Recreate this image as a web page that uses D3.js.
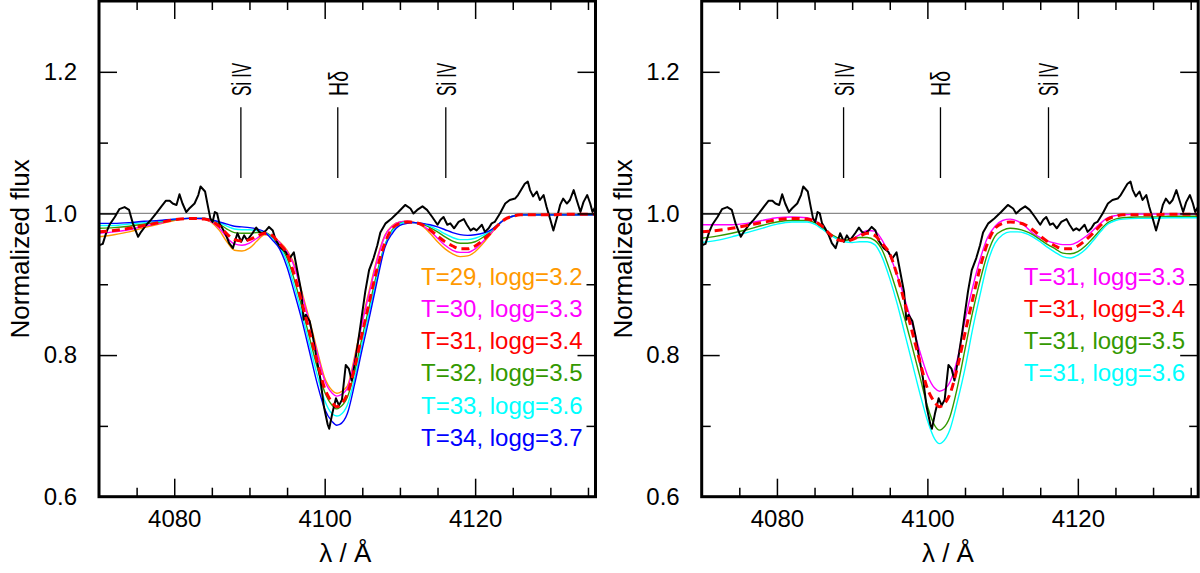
<!DOCTYPE html>
<html>
<head>
<meta charset="utf-8">
<script src="https://cdn.jsdelivr.net/npm/d3@7"></script>
<style>
  body { margin: 0; background: #fff; }
  svg { display: block; font-family: "Liberation Sans", Arial, sans-serif; }
</style>
</head>
<body>
<svg width="1200" height="573"></svg>
<script>
// model wavelength grid (Å)
const modelWave = [4070, 4072, 4074, 4076, 4078, 4080, 4082, 4084,
  4085, 4086, 4087, 4088, 4089, 4090, 4091, 4092,
  4093, 4094, 4095, 4096, 4097, 4098, 4099, 4100, 4101, 4101.6,
  4102, 4103, 4104, 4105, 4106, 4107, 4108, 4109, 4110, 4111,
  4112, 4113, 4114, 4115, 4116, 4117, 4118, 4119, 4120, 4121, 4122, 4123, 4124, 4125, 4126,
  4128, 4130, 4132, 4134, 4136]

// left panel models
const t29g32 = [.967,.970,.974,.980,.985,.990,.993,.992, .987,.976,.960,.948,.947,.951,.961,.970,
  .968,.960,.948,.927,.888,.849,.807,.768,.750,.746, .747,.756,.799,.850,.895,.938,.969,.983,.988,.989,
  .987,.982,.972,.960,.950,.943,.939,.940,.946,.957,.970,.983,.992,.996,.998, .998,.998,.998,.998,.998]
const t30g33 = [.972,.974,.977,.982,.986,.991,.993,.992, .988,.979,.966,.957,.955,.958,.965,.971,
  .968,.959,.946,.924,.885,.845,.803,.764,.746,.742, .743,.753,.795,.846,.891,.935,.968,.982,.988,.989,
  .987,.983,.975,.965,.955,.948,.945,.945,.950,.960,.971,.983,.992,.996,.998, .998,.998,.998,.998,.998]
const t31g34 = [.974,.976,.979,.983,.987,.991,.993,.992, .989,.982,.971,.963,.961,.963,.968,.972,
  .969,.957,.943,.912,.873,.832,.791,.753,.733,.727, .729,.745,.783,.831,.878,.923,.958,.979,.986,.988,
  .987,.984,.977,.968,.960,.954,.950,.950,.954,.962,.972,.983,.992,.996,.998, .998,.998,.999,.999,.999]
const t32g35 = [.979,.980,.982,.985,.988,.991,.993,.993, .990,.985,.978,.973,.972,.972,.973,.973,
  .967,.955,.937,.905,.866,.824,.783,.748,.729,.724, .726,.740,.777,.826,.872,.918,.955,.977,.986,.988,
  .987,.985,.980,.974,.967,.961,.958,.958,.960,.966,.974,.984,.992,.996,.998, .998,.998,.998,.998,.998]
const t33g36 = [.983,.983,.985,.987,.989,.992,.993,.993, .991,.987,.982,.978,.977,.977,.976,.974,
  .965,.953,.931,.896,.857,.814,.772,.736,.717,.714, .715,.729,.768,.817,.864,.912,.954,.975,.985,.988,
  .987,.986,.982,.977,.971,.966,.963,.963,.965,.969,.975,.984,.992,.996,.998, .998,.998,.998,.998,.998]
const t34g37 = [.986,.986,.987,.989,.990,.992,.993,.993, .991,.988,.985,.982,.981,.980,.978,.974,
  .963,.950,.924,.887,.848,.804,.760,.724,.706,.701, .702,.717,.760,.809,.856,.906,.952,.972,.983,.986,
  .987,.986,.984,.981,.977,.973,.970,.969,.970,.972,.976,.984,.992,.996,.998, .998,.998,.998,.998,.998]

// right panel models (T=31)
const t31g33 = [.984,.984,.984,.986,.990,.994,.995,.994, .990,.981,.972,.965,.962,.964,.970,.976,
  .975,.962,.941,.912,.879,.843,.805,.772,.753,.749, .750,.762,.795,.849,.895,.935,.966,.982,.990,.992,
  .989,.982,.972,.966,.961,.958,.956,.956,.960,.967,.976,.986,.994,.997,.998, .999,.999,.999,.999,.999]
const t31g35 = [.965,.968,.972,.977,.983,.988,.990,.990, .987,.980,.972,.966,.962,.964,.966,.966,
  .962,.948,.920,.887,.851,.811,.770,.728,.700,.694, .696,.713,.755,.808,.860,.905,.943,.968,.976,.979,
  .978,.975,.970,.963,.956,.950,.944,.943,.946,.954,.965,.977,.987,.992,.994, .995,.995,.996,.996,.996]
const t31g36 = [.959,.962,.967,.973,.979,.985,.988,.988, .985,.978,.970,.964,.960,.959,.960,.960,
  .956,.938,.908,.872,.830,.788,.746,.708,.681,.675, .677,.695,.735,.781,.836,.885,.930,.958,.970,.974,
  .974,.972,.967,.960,.952,.945,.939,.937,.941,.949,.961,.974,.985,.990,.992, .993,.993,.994,.994,.994]

// observed spectrum
const obsWave = [4070.0,4070.5,4071.0,4071.4,4072.1,4072.7,4073.4,4074.0,4074.5,4075.2,4075.6,4076.3,4076.9,4077.6,
  4078.3,4078.9,4079.4,4079.8,4080.3,4080.7,4081.1,4081.6,4082.0,4082.7,4083.2,4083.5,4084.1,4084.5,4084.8,
  4085.1,4085.4,4085.7,4086.0,4086.4,4086.9,4087.3,4087.8,4088.2,4088.4,4088.9,4089.3,4089.7,4090.4,4090.9,
  4091.3,4091.7,4092.2,4092.6,4093.1,4093.5,4094.2,4094.8,4095.3,4095.9,4096.4,4096.9,4097.2,4097.5,4098.0,
  4098.4,4098.9,4099.4,4099.9,4100.4,4100.6,4101.0,4101.5,4101.9,4102.3,4102.8,4103.2,4103.6,4104.1,4104.6,
  4105.0,4105.4,4105.9,4106.5,4107.0,4107.4,4108.1,4108.9,4109.8,4110.7,4111.4,4111.8,4112.3,4113.0,4113.6,
  4114.3,4115.0,4115.4,4115.8,4116.3,4116.7,4117.2,4117.8,4118.5,4118.9,4119.4,4119.8,4120.2,4120.9,4121.3,
  4121.8,4122.2,4122.6,4123.3,4124.0,4124.6,4125.3,4125.7,4126.2,4126.6,4127.0,4127.3,4127.7,4128.2,4128.6,
  4129.1,4129.5,4130.0,4130.4,4130.9,4131.3,4131.7,4132.2,4132.6,4133.1,4133.5,4134.0,4134.4,4134.9,4135.3,
  4135.6,4136.0]
const obsFlux = [.955,.957,.974,.984,.995,1.006,1.009,1.005,.986,.967,.974,.984,.991,1.000,
  1.010,1.018,1.018,1.014,1.012,1.027,1.014,1.002,1.007,1.014,1.026,1.038,1.031,1.009,.993,
  .988,1.002,1.000,.986,.979,.969,.958,.951,.965,.972,.960,.969,.962,.972,.980,
  .974,.972,.976,.981,.976,.962,.951,.946,.936,.945,.917,.889,.850,.857,.848,
  .828,.797,.768,.727,.702,.696,.717,.739,.729,.737,.786,.781,.764,.795,.830,
  .860,.890,.920,.937,.955,.973,.986,.993,1.002,1.012,1.007,1.000,1.005,1.010,1.005,
  .995,.984,.991,.995,.984,.986,.979,.988,.992,.984,.976,.979,.976,.984,.974,
  .979,.986,.988,1.000,1.014,1.019,1.021,1.026,1.035,1.042,1.045,1.033,1.024,1.031,1.019,
  1.026,1.009,.991,.976,.995,1.012,1.021,1.014,1.019,1.033,1.019,1.002,1.016,1.026,1.014,
  1.002,1.010]

// line identifications
const idWave = [4088.86, 4101.74, 4116.10]
const idLabel = ["Si IV", "H\u03b4", "Si IV"]
const idLength = [33, 25, 33]

// ticks
const xMajor = [4080, 4100, 4120]
const xMinor = [4075, 4085, 4090, 4095, 4105, 4110, 4115, 4125, 4130, 4135]
const yMajor = [0.6, 0.8, 1.0, 1.2]
const yMinor = [0.7, 0.9, 1.1]

const leftModels = [
  { label: "T=29, logg=3.2", color: "#ff9900", values: t29g32 },
  { label: "T=30, logg=3.3", color: "#ff00ff", values: t30g33 },
  { label: "T=31, logg=3.4", color: "#ff0000", values: t31g34, dashed: true },
  { label: "T=32, logg=3.5", color: "#339900", values: t32g35 },
  { label: "T=33, logg=3.6", color: "#00ffff", values: t33g36 },
  { label: "T=34, logg=3.7", color: "#0000ff", values: t34g37 }
]
const rightModels = [
  { label: "T=31, logg=3.3", color: "#ff00ff", values: t31g33 },
  { label: "T=31, logg=3.4", color: "#ff0000", values: t31g34, dashed: true },
  { label: "T=31, logg=3.5", color: "#339900", values: t31g35 },
  { label: "T=31, logg=3.6", color: "#00ffff", values: t31g36 }
]

var svg = d3.select("svg"),
    plotW = 496.5,
    plotH = 495.7;

var x = d3.scaleLinear().domain([4070, 4136]).range([0, plotW]);
var y = d3.scaleLinear().domain([0.6, 1.3]).range([plotH, 0]);

var modelLine = d3.line()
    .x(function(d) { return x(d[0]); })
    .y(function(d) { return y(d[1]); })
    .curve(d3.curveMonotoneX);

var obsLine = d3.line()
    .x(function(d) { return x(d[0]); })
    .y(function(d) { return y(d[1]); });

const styleAxis = (sel) => {
  sel.select(".domain").remove();
  sel.selectAll("line").attr("stroke", "#000").attr("stroke-width", 1.5);
  sel.attr("font-size", 24).attr("font-family", "Liberation Sans, Arial, sans-serif");
  sel.selectAll("text").attr("fill", "#000");
}

const drawPanel = (ox, models, id) => {
  var g = svg.append("g").attr("transform", "translate(" + ox + ",1)");

  g.append("clipPath").attr("id", "clip" + id)
    .append("rect").attr("width", plotW).attr("height", plotH);

  var plot = g.append("g").attr("clip-path", "url(#clip" + id + ")");

  // continuum level
  plot.append("line")
      .attr("x1", 0).attr("x2", plotW)
      .attr("y1", y(1)).attr("y2", y(1))
      .attr("stroke", "#8a8a8a").attr("stroke-width", 1.3);

  // line identifications
  plot.selectAll(".idline")
    .data(idWave)
    .enter().append("line")
      .attr("x1", function(d) { return x(d); })
      .attr("x2", function(d) { return x(d); })
      .attr("y1", y(1.05)).attr("y2", y(1.15))
      .attr("stroke", "#000").attr("stroke-width", 1.3);

  plot.selectAll(".idtext")
    .data(idWave)
    .enter().append("text")
      .attr("transform", function(d) { return "translate(" + (x(d) + 10) + "," + y(1.166) + ") rotate(-90)"; })
      .attr("font-size", 27)
      .attr("textLength", function(d, i) { return idLength[i]; })
      .attr("lengthAdjust", "spacingAndGlyphs")
      .text(function(d, i) { return idLabel[i]; });

  var pairs = (vals) => modelWave.map((w, i) => [w, vals[i]]);

  // solid models first, then observed, then the dashed best fit
  models.filter((m) => !m.dashed).forEach((m) => {
    plot.append("path")
        .attr("d", modelLine(pairs(m.values)))
        .attr("fill", "none")
        .attr("stroke", m.color)
        .attr("stroke-width", 1.4);
  });

  plot.append("path")
      .attr("d", obsLine(obsWave.map((w, i) => [w, obsFlux[i]])))
      .attr("fill", "none")
      .attr("stroke", "#000")
      .attr("stroke-width", 2)
      .attr("stroke-linejoin", "round");

  models.filter((m) => m.dashed).forEach((m) => {
    plot.append("path")
        .attr("d", modelLine(pairs(m.values)))
        .attr("fill", "none")
        .attr("stroke", m.color)
        .attr("stroke-width", 3)
        .attr("stroke-dasharray", "8,5");
  });

  // axes, ticks pointing inward on all four sides
  g.append("g")
      .attr("transform", "translate(0," + plotH + ")")
      .call(d3.axisBottom(x).tickValues(xMajor).tickSize(-18).tickPadding(13).tickFormat(d3.format("d")))
      .call(styleAxis);
  g.append("g")
      .attr("transform", "translate(0," + plotH + ")")
      .call(d3.axisBottom(x).tickValues(xMinor).tickSize(-9).tickFormat(""))
      .call(styleAxis);
  g.append("g")
      .call(d3.axisTop(x).tickValues(xMajor).tickSize(-18).tickFormat(""))
      .call(styleAxis);
  g.append("g")
      .call(d3.axisTop(x).tickValues(xMinor).tickSize(-9).tickFormat(""))
      .call(styleAxis);
  g.append("g")
      .call(d3.axisLeft(y).tickValues(yMajor).tickSize(-18).tickPadding(22).tickFormat(d3.format(".1f")))
      .call(styleAxis);
  g.append("g")
      .call(d3.axisLeft(y).tickValues(yMinor).tickSize(-9).tickFormat(""))
      .call(styleAxis);
  g.append("g")
      .attr("transform", "translate(" + plotW + ",0)")
      .call(d3.axisRight(y).tickValues(yMajor).tickSize(-18).tickFormat(""))
      .call(styleAxis);
  g.append("g")
      .attr("transform", "translate(" + plotW + ",0)")
      .call(d3.axisRight(y).tickValues(yMinor).tickSize(-9).tickFormat(""))
      .call(styleAxis);

  g.append("rect")
      .attr("width", plotW).attr("height", plotH)
      .attr("fill", "none")
      .attr("stroke", "#000")
      .attr("stroke-width", 3);

  // legend
  g.append("g")
      .attr("font-size", 24)
      .attr("text-anchor", "end")
    .selectAll("text")
    .data(models)
    .enter().append("text")
      .attr("x", 483.5)
      .attr("y", function(d, i) { return 283.5 + i * 32.3; })
      .attr("fill", function(d) { return d.color; })
      .text(function(d) { return d.label; });

  // axis titles
  g.append("text")
      .attr("transform", "translate(-70," + (plotH / 2) + ") rotate(-90)")
      .attr("text-anchor", "middle")
      .attr("font-size", 26)
      .text("Normalized flux");

  g.append("text")
      .attr("x", plotW / 2 - 2)
      .attr("y", 560.7)
      .attr("text-anchor", "middle")
      .attr("font-size", 26)
      .text("\u03bb / \u00c5");
}

drawPanel(99, leftModels, "L");
drawPanel(701.7, rightModels, "R");
</script>
</body>
</html>
